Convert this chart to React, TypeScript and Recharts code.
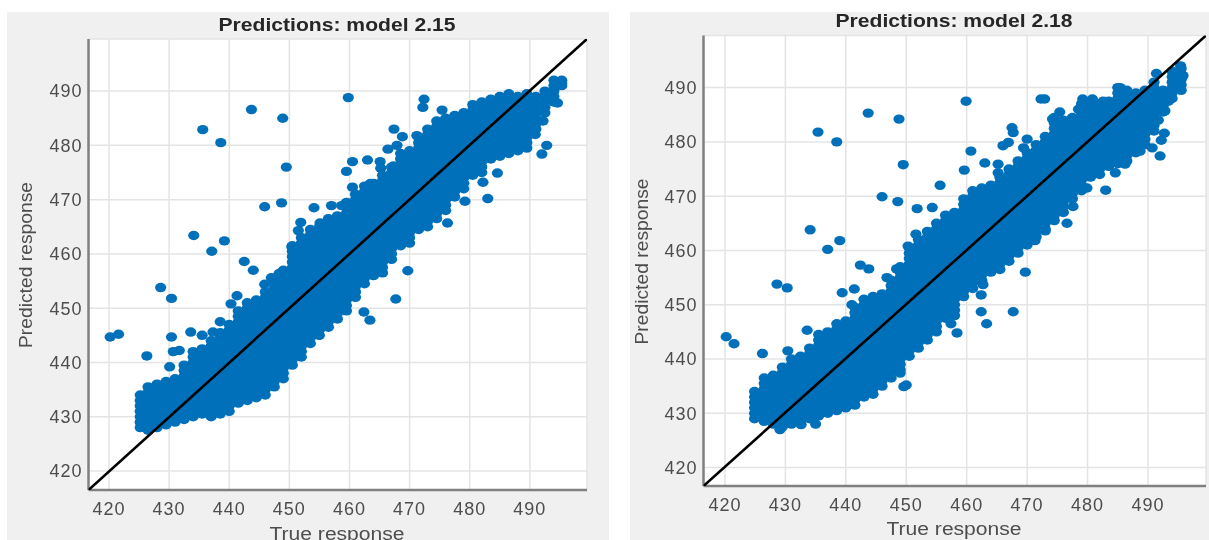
import { ScatterChart, Scatter, XAxis, YAxis, CartesianGrid } from "recharts";

const ticks = [420, 430, 440, 450, 460, 470, 480, 490];
const DOT_COLOR = "#0070ba";
const FONT = '"Liberation Sans", Arial, sans-serif';

// model 2.15: dense band, one row per true-response column
const bandLeft: [number, number[]][] = [
  [425.2, [428, 429, 430, 431, 432, 433, 434]],
  [426.5, [427.5, 428.5, 429.5, 430.5, 431.5, 432.5, 433.5, 434.5, 435.5]],
  [428, [428, 429, 430, 431, 432, 433, 434, 435, 436]],
  [429.5, [428.5, 429.5, 430.5, 431.5, 432.5, 433.5, 434.5, 435.5, 436.5]],
  [431, [429, 430, 431, 432, 433, 434, 435, 436, 437]],
  [432.5, [429.5, 430.5, 431.5, 432.5, 433.5, 434.5, 435.5, 436.5, 437.5, 438.5, 439.5]],
  [434, [430, 431, 432, 433, 434, 435, 436, 437, 438, 439, 440, 441, 442]],
  [435.5, [430.5, 431.5, 432.5, 433.5, 434.5, 435.5, 436.5, 437.5, 438.5, 439.5, 440.5, 441.5, 442.5]],
  [437, [430, 431, 432, 433, 434, 435, 436, 437, 438, 439, 440, 441, 442, 443, 444]],
  [438.5, [430.5, 431.5, 432.5, 433.5, 434.5, 435.5, 436.5, 437.5, 438.5, 439.5, 440.5, 441.5, 442.5, 443.5, 444.5, 445.5]],
  [440, [431, 432, 433, 434, 435, 436, 437, 438, 439, 440, 441, 442, 443, 444, 445, 446, 447]],
  [441.5, [432.5, 433.5, 434.5, 435.5, 436.5, 437.5, 438.5, 439.5, 440.5, 441.5, 442.5, 443.5, 444.5, 445.5, 446.5, 447.5, 448.5, 449.5]],
  [443, [433, 434, 435, 436, 437, 438, 439, 440, 441, 442, 443, 444, 445, 446, 447, 448, 449, 450, 451]],
  [444.5, [433.5, 434.5, 435.5, 436.5, 437.5, 438.5, 439.5, 440.5, 441.5, 442.5, 443.5, 444.5, 445.5, 446.5, 447.5, 448.5, 449.5, 450.5, 451.5]],
  [446, [434, 435, 436, 437, 438, 439, 440, 441, 442, 443, 444, 445, 446, 447, 448, 449, 450, 451, 452, 453]],
  [447.5, [435.5, 436.5, 437.5, 438.5, 439.5, 440.5, 441.5, 442.5, 443.5, 444.5, 445.5, 446.5, 447.5, 448.5, 449.5, 450.5, 451.5, 452.5, 453.5, 454.5, 455.5]],
  [449, [437, 438, 439, 440, 441, 442, 443, 444, 445, 446, 447, 448, 449, 450, 451, 452, 453, 454, 455, 456, 457]],
  [450.5, [439.5, 440.5, 441.5, 442.5, 443.5, 444.5, 445.5, 446.5, 447.5, 448.5, 449.5, 450.5, 451.5, 452.5, 453.5, 454.5, 455.5, 456.5, 457.5, 458.5, 459.5, 460.5, 461.5]],
  [452, [441, 442, 443, 444, 445, 446, 447, 448, 449, 450, 451, 452, 453, 454, 455, 456, 457, 458, 459, 460, 461, 462, 463]],
  [453.5, [443.5, 444.5, 445.5, 446.5, 447.5, 448.5, 449.5, 450.5, 451.5, 452.5, 453.5, 454.5, 455.5, 456.5, 457.5, 458.5, 459.5, 460.5, 461.5, 462.5, 463.5, 464.5]],
  [455, [445, 446, 447, 448, 449, 450, 451, 452, 453, 454, 455, 456, 457, 458, 459, 460, 461, 462, 463, 464, 465]],
  [456.5, [446.5, 447.5, 448.5, 449.5, 450.5, 451.5, 452.5, 453.5, 454.5, 455.5, 456.5, 457.5, 458.5, 459.5, 460.5, 461.5, 462.5, 463.5, 464.5, 465.5, 466.5]],
  [458, [448, 449, 450, 451, 452, 453, 454, 455, 456, 457, 458, 459, 460, 461, 462, 463, 464, 465, 466, 467]],
  [459.5, [449.5, 450.5, 451.5, 452.5, 453.5, 454.5, 455.5, 456.5, 457.5, 458.5, 459.5, 460.5, 461.5, 462.5, 463.5, 464.5, 465.5, 466.5, 467.5, 468.5, 469.5]],
  [461, [452, 453, 454, 455, 456, 457, 458, 459, 460, 461, 462, 463, 464, 465, 466, 467, 468, 469, 470, 471]],
  [462.5, [454.5, 455.5, 456.5, 457.5, 458.5, 459.5, 460.5, 461.5, 462.5, 463.5, 464.5, 465.5, 466.5, 467.5, 468.5, 469.5, 470.5, 471.5, 472.5]],
  [464, [456, 457, 458, 459, 460, 461, 462, 463, 464, 465, 466, 467, 468, 469, 470, 471, 472, 473]],
  [465.5, [456.5, 457.5, 458.5, 459.5, 460.5, 461.5, 462.5, 463.5, 464.5, 465.5, 466.5, 467.5, 468.5, 469.5, 470.5, 471.5, 472.5, 473.5, 474.5]],
  [467, [459, 460, 461, 462, 463, 464, 465, 466, 467, 468, 469, 470, 471, 472, 473, 474, 475, 476]],
  [468.5, [461.5, 462.5, 463.5, 464.5, 465.5, 466.5, 467.5, 468.5, 469.5, 470.5, 471.5, 472.5, 473.5, 474.5, 475.5, 476.5, 477.5, 478.5]],
  [470, [462, 463, 464, 465, 466, 467, 468, 469, 470, 471, 472, 473, 474, 475, 476, 477, 478, 479]],
  [471.5, [464.5, 465.5, 466.5, 467.5, 468.5, 469.5, 470.5, 471.5, 472.5, 473.5, 474.5, 475.5, 476.5, 477.5, 478.5, 479.5, 480.5, 481.5]],
  [473, [465, 466, 467, 468, 469, 470, 471, 472, 473, 474, 475, 476, 477, 478, 479, 480, 481, 482, 483]],
  [474.5, [466.5, 467.5, 468.5, 469.5, 470.5, 471.5, 472.5, 473.5, 474.5, 475.5, 476.5, 477.5, 478.5, 479.5, 480.5, 481.5, 482.5, 483.5, 484.5]],
  [476, [468, 469, 470, 471, 472, 473, 474, 475, 476, 477, 478, 479, 480, 481, 482, 483, 484, 485]],
  [477.5, [470.5, 471.5, 472.5, 473.5, 474.5, 475.5, 476.5, 477.5, 478.5, 479.5, 480.5, 481.5, 482.5, 483.5, 484.5, 485.5]],
  [479, [472, 473, 474, 475, 476, 477, 478, 479, 480, 481, 482, 483, 484, 485, 486]],
  [480.5, [474.5, 475.5, 476.5, 477.5, 478.5, 479.5, 480.5, 481.5, 482.5, 483.5, 484.5, 485.5, 486.5, 487.5]],
  [482, [475, 476, 477, 478, 479, 480, 481, 482, 483, 484, 485, 486, 487, 488]],
  [483.5, [477.5, 478.5, 479.5, 480.5, 481.5, 482.5, 483.5, 484.5, 485.5, 486.5, 487.5, 488.5]],
  [485, [478, 479, 480, 481, 482, 483, 484, 485, 486, 487, 488, 489]],
  [486.5, [478.5, 479.5, 480.5, 481.5, 482.5, 483.5, 484.5, 485.5, 486.5, 487.5, 488.5, 489.5]],
  [488, [479, 480, 481, 482, 483, 484, 485, 486, 487, 488, 489]],
  [489.5, [479.5, 480.5, 481.5, 482.5, 483.5, 484.5, 485.5, 486.5, 487.5, 488.5, 489.5]],
  [491, [483, 484, 485, 486, 487, 488, 489]],
  [492.5, [486, 487, 488, 489, 490]],
  [494, [488, 489, 490, 491, 492]],
  [495.3, [491, 491.5, 492]],
];
const strayLeft: [number, number][] = [
  [420.2, 444.7], [421.6, 445.2], [426.3, 441.2], [428.6, 453.8], [430.4, 451.8], [430.4, 444.7], [430.7, 442], [431.7, 442.2],
  [430.1, 439.2], [433.6, 445.6], [435.5, 445], [437.3, 445.6], [438.5, 447.5], [440.3, 450.8], [441.3, 452.3], [445.9, 454.4],
  [435.6, 482.9], [438.6, 480.5], [443.7, 486.6], [448.9, 485], [449.5, 476], [445.9, 468.7], [448.7, 469.4], [454.1, 468.5],
  [451.9, 465.8], [451.5, 464.3], [434.1, 463.4], [437.1, 460.5], [439.2, 462.4], [442.5, 458.6], [444, 457], [450.4, 461.3],
  [448.3, 456.4], [447, 455.6], [455.1, 465.7], [459.8, 488.8], [472.4, 488.5], [472.2, 487], [467.4, 483], [468.8, 481.6],
  [471.2, 481.8], [460.5, 477], [463, 477.3], [459.5, 475.2], [465.1, 477], [466.4, 479.3], [467.9, 480], [465.2, 475.8],
  [467.3, 476.2], [457, 468.9], [458.7, 468.9], [460.5, 472.3], [463.5, 473], [475.4, 486.5], [469.7, 456.9], [467.7, 451.7],
  [462.4, 449.3], [463.4, 447.8], [482.2, 473.2], [483, 470.2], [484.6, 474.9], [479.2, 469.7], [476.3, 465.7], [492, 478.4],
  [492.8, 480], [490.9, 482], [492.2, 484.5], [494.6, 487.8],
];

// model 2.18
const bandRight: [number, number[]][] = [
  [424.9, [429, 430, 431, 432, 433, 434]],
  [426.5, [428.5, 429.5, 430.5, 431.5, 432.5, 433.5, 434.5, 435.5, 436.5]],
  [428, [428, 429, 430, 431, 432, 433, 434, 435, 436, 437]],
  [429.5, [427.5, 428.5, 429.5, 430.5, 431.5, 432.5, 433.5, 434.5, 435.5, 436.5, 437.5, 438.5]],
  [431, [428, 429, 430, 431, 432, 433, 434, 435, 436, 437, 438, 439, 440]],
  [432.5, [428.5, 429.5, 430.5, 431.5, 432.5, 433.5, 434.5, 435.5, 436.5, 437.5, 438.5, 439.5, 440.5]],
  [434, [429, 430, 431, 432, 433, 434, 435, 436, 437, 438, 439, 440, 441, 442]],
  [435.5, [429.5, 430.5, 431.5, 432.5, 433.5, 434.5, 435.5, 436.5, 437.5, 438.5, 439.5, 440.5, 441.5, 442.5, 443.5, 444.5]],
  [437, [430, 431, 432, 433, 434, 435, 436, 437, 438, 439, 440, 441, 442, 443, 444, 445]],
  [438.5, [430.5, 431.5, 432.5, 433.5, 434.5, 435.5, 436.5, 437.5, 438.5, 439.5, 440.5, 441.5, 442.5, 443.5, 444.5, 445.5, 446.5]],
  [440, [431, 432, 433, 434, 435, 436, 437, 438, 439, 440, 441, 442, 443, 444, 445, 446, 447]],
  [441.5, [431.5, 432.5, 433.5, 434.5, 435.5, 436.5, 437.5, 438.5, 439.5, 440.5, 441.5, 442.5, 443.5, 444.5, 445.5, 446.5, 447.5, 448.5, 449.5]],
  [443, [433, 434, 435, 436, 437, 438, 439, 440, 441, 442, 443, 444, 445, 446, 447, 448, 449, 450, 451]],
  [444.5, [433.5, 434.5, 435.5, 436.5, 437.5, 438.5, 439.5, 440.5, 441.5, 442.5, 443.5, 444.5, 445.5, 446.5, 447.5, 448.5, 449.5, 450.5, 451.5]],
  [446, [435, 436, 437, 438, 439, 440, 441, 442, 443, 444, 445, 446, 447, 448, 449, 450, 451, 452]],
  [447.5, [436.5, 437.5, 438.5, 439.5, 440.5, 441.5, 442.5, 443.5, 444.5, 445.5, 446.5, 447.5, 448.5, 449.5, 450.5, 451.5, 452.5, 453.5, 454.5]],
  [449, [438, 439, 440, 441, 442, 443, 444, 445, 446, 447, 448, 449, 450, 451, 452, 453, 454, 455, 456, 457]],
  [450.5, [440.5, 441.5, 442.5, 443.5, 444.5, 445.5, 446.5, 447.5, 448.5, 449.5, 450.5, 451.5, 452.5, 453.5, 454.5, 455.5, 456.5, 457.5, 458.5, 459.5, 460.5]],
  [452, [442, 443, 444, 445, 446, 447, 448, 449, 450, 451, 452, 453, 454, 455, 456, 457, 458, 459, 460, 461, 462]],
  [453.5, [443.5, 444.5, 445.5, 446.5, 447.5, 448.5, 449.5, 450.5, 451.5, 452.5, 453.5, 454.5, 455.5, 456.5, 457.5, 458.5, 459.5, 460.5, 461.5, 462.5, 463.5]],
  [455, [445, 446, 447, 448, 449, 450, 451, 452, 453, 454, 455, 456, 457, 458, 459, 460, 461, 462, 463, 464, 465]],
  [456.5, [447.5, 448.5, 449.5, 450.5, 451.5, 452.5, 453.5, 454.5, 455.5, 456.5, 457.5, 458.5, 459.5, 460.5, 461.5, 462.5, 463.5, 464.5, 465.5, 466.5]],
  [458, [448, 449, 450, 451, 452, 453, 454, 455, 456, 457, 458, 459, 460, 461, 462, 463, 464, 465, 466, 467]],
  [459.5, [451.5, 452.5, 453.5, 454.5, 455.5, 456.5, 457.5, 458.5, 459.5, 460.5, 461.5, 462.5, 463.5, 464.5, 465.5, 466.5, 467.5, 468.5, 469.5]],
  [461, [453, 454, 455, 456, 457, 458, 459, 460, 461, 462, 463, 464, 465, 466, 467, 468, 469, 470, 471]],
  [462.5, [454.5, 455.5, 456.5, 457.5, 458.5, 459.5, 460.5, 461.5, 462.5, 463.5, 464.5, 465.5, 466.5, 467.5, 468.5, 469.5, 470.5, 471.5]],
  [464, [456, 457, 458, 459, 460, 461, 462, 463, 464, 465, 466, 467, 468, 469, 470, 471, 472]],
  [465.5, [456.5, 457.5, 458.5, 459.5, 460.5, 461.5, 462.5, 463.5, 464.5, 465.5, 466.5, 467.5, 468.5, 469.5, 470.5, 471.5, 472.5, 473.5]],
  [467, [458, 459, 460, 461, 462, 463, 464, 465, 466, 467, 468, 469, 470, 471, 472, 473, 474, 475]],
  [468.5, [459.5, 460.5, 461.5, 462.5, 463.5, 464.5, 465.5, 466.5, 467.5, 468.5, 469.5, 470.5, 471.5, 472.5, 473.5, 474.5, 475.5, 476.5]],
  [470, [461, 462, 463, 464, 465, 466, 467, 468, 469, 470, 471, 472, 473, 474, 475, 476, 477, 478]],
  [471.5, [462.5, 463.5, 464.5, 465.5, 466.5, 467.5, 468.5, 469.5, 470.5, 471.5, 472.5, 473.5, 474.5, 475.5, 476.5, 477.5, 478.5, 479.5]],
  [473, [464, 465, 466, 467, 468, 469, 470, 471, 472, 473, 474, 475, 476, 477, 478, 479, 480, 481]],
  [474.5, [465.5, 466.5, 467.5, 468.5, 469.5, 470.5, 471.5, 472.5, 473.5, 474.5, 475.5, 476.5, 477.5, 478.5, 479.5, 480.5, 481.5, 482.5, 483.5, 484.5]],
  [476, [467, 468, 469, 470, 471, 472, 473, 474, 475, 476, 477, 478, 479, 480, 481, 482, 483, 484]],
  [477.5, [469.5, 470.5, 471.5, 472.5, 473.5, 474.5, 475.5, 476.5, 477.5, 478.5, 479.5, 480.5, 481.5, 482.5, 483.5, 484.5]],
  [479, [471, 472, 473, 474, 475, 476, 477, 478, 479, 480, 481, 482, 483, 484, 485, 486, 487]],
  [480.5, [473.5, 474.5, 475.5, 476.5, 477.5, 478.5, 479.5, 480.5, 481.5, 482.5, 483.5, 484.5, 485.5, 486.5, 487.5]],
  [482, [474, 475, 476, 477, 478, 479, 480, 481, 482, 483, 484, 485, 486, 487]],
  [483.5, [475.5, 476.5, 477.5, 478.5, 479.5, 480.5, 481.5, 482.5, 483.5, 484.5, 485.5, 486.5, 487.5]],
  [485, [476, 477, 478, 479, 480, 481, 482, 483, 484, 485, 486, 487, 488, 489, 490]],
  [486.5, [476.5, 477.5, 478.5, 479.5, 480.5, 481.5, 482.5, 483.5, 484.5, 485.5, 486.5, 487.5, 488.5, 489.5]],
  [488, [478, 479, 480, 481, 482, 483, 484, 485, 486, 487, 488, 489]],
  [489.5, [479.5, 480.5, 481.5, 482.5, 483.5, 484.5, 485.5, 486.5, 487.5, 488.5, 489.5]],
  [491, [482, 483, 484, 485, 486, 487, 488, 489, 490, 491]],
  [492.5, [485.5, 486.5, 487.5, 488.5, 489.5]],
  [494, [488, 489, 490, 491, 492, 493]],
  [495.5, [489.5, 490.5, 491.5, 492.5, 493.5]],
];
const strayRight: [number, number][] = [
  [420.2, 444.1], [421.5, 442.8], [426.2, 441], [428.6, 453.8], [430.3, 453.1], [430.4, 441.5], [433.6, 445.3], [435, 428],
  [432.6, 427.9], [429.1, 427], [439.4, 452.2], [441.4, 452.9], [441, 450], [449, 437.4], [449.6, 434.9], [450, 435.2],
  [435.4, 481.8], [438.5, 480], [443.7, 485.3], [448.8, 484.2], [449.5, 475.8], [446, 469.9], [448.6, 469], [451.8, 467.7],
  [451.6, 463], [450.3, 460.8], [434.1, 463.8], [437, 460.2], [439, 461.8], [442.4, 457.3], [443.8, 456.6], [448.4, 456.6],
  [446.8, 455], [459.9, 487.5], [472.3, 487.9], [472.9, 487.9], [460.7, 478.3], [463, 476.1], [459.6, 474.8], [455.6, 472],
  [454.3, 467.9], [465.2, 475.9], [465.2, 474.3], [467.5, 482.6], [467.7, 481.7], [466.9, 479.9], [466, 479.3], [470, 480.5],
  [469.4, 478.9], [474.2, 484.2], [475.4, 485.5], [478.5, 486], [479.2, 487.9], [480.8, 487.9], [482.6, 487.5], [485.4, 490],
  [491.4, 492.6], [495.4, 494], [495.8, 492.2], [495.3, 489.8], [493.4, 487.5], [492.8, 485.7], [491.7, 484], [492.7, 481.6],
  [492.2, 480.3], [490.7, 478.9], [492, 477.4], [488.7, 478.3], [486.2, 475.9], [484.6, 474.3], [483, 471.1], [479.9, 471.5],
  [477.6, 468.1], [476.6, 465], [473, 463.6], [471.3, 461.8], [469.7, 456], [467.7, 448.7], [463.3, 446.5], [462.4, 448.7],
  [458.4, 444.8], [457.4, 446.5], [457.7, 448.3], [462.4, 451.8], [462.7, 453.7],
];

const toPoints = (band: [number, number[]][], stray: [number, number][]) => [
  ...band.flatMap(([x, ys]) => ys.map((y) => ({ x, y }))),
  ...stray.map(([x, y]) => ({ x, y })),
];

const Dot = ({ cx, cy }: any) => <ellipse cx={cx} cy={cy} rx={5.6} ry={4.7} fill={DOT_COLOR} />;
const NoDot = () => null;

const tickStyle = { fill: "#4d4d4d", fontSize: 18, fontFamily: FONT, letterSpacing: 1 };

interface PanelProps {
  title: string;
  points: { x: number; y: number }[];
  left: number;
  width: number;
  margin: { top: number; right: number; bottom: number; left: number };
  xDomain: [number, number];
  yDomain: [number, number];
  titleX: number;
  titleY: number;
  yLabelX: number;
  yLabelY: number;
  xLabelX: number;
  xLabelY: number;
}

const Panel = (p: PanelProps) => (
  <div style={{ position: "absolute", left: p.left, top: 12, width: p.width, height: 528, background: "#f0f0f0" }}>
    <ScatterChart width={p.width} height={528} margin={{ ...p.margin, left: 0, bottom: 0 }}>
      <CartesianGrid stroke="#e4e4e4" strokeWidth={1.5} fill="#fff" fillOpacity={1} />
      <XAxis
        type="number"
        dataKey="x"
        domain={p.xDomain}
        ticks={ticks}
        height={p.margin.bottom}
        allowDataOverflow
        stroke="#808080"
        strokeWidth={2.5}
        tickLine={false}
        tickMargin={6}
        tick={tickStyle}
        interval={0}
      />
      <YAxis
        type="number"
        dataKey="y"
        domain={p.yDomain}
        ticks={ticks}
        width={p.margin.left}
        allowDataOverflow
        stroke="#808080"
        strokeWidth={2.5}
        tickLine={false}
        tickSize={4}
        tick={tickStyle}
        interval={0}
      />
      <Scatter data={p.points} fill={DOT_COLOR} shape={Dot} isAnimationActive={false} />
      <Scatter
        data={[
          { x: p.xDomain[0], y: p.yDomain[0] },
          { x: p.xDomain[1], y: p.yDomain[1] },
        ]}
        line={{ stroke: "#000", strokeWidth: 2.6 }}
        shape={NoDot}
        isAnimationActive={false}
      />
      <text
        x={p.titleX}
        y={p.titleY}
        textAnchor="middle"
        textLength={237}
        lengthAdjust="spacingAndGlyphs"
        fontFamily={FONT}
        fontSize={17.5}
        fontWeight="bold"
        fill="#262626"
      >
        {p.title}
      </text>
      <text
        transform={`translate(${p.yLabelX},${p.yLabelY}) rotate(-90)`}
        textAnchor="middle"
        textLength={166}
        lengthAdjust="spacingAndGlyphs"
        fontFamily={FONT}
        fontSize={17.5}
        fill="#4d4d4d"
      >
        Predicted response
      </text>
      <text
        x={p.xLabelX}
        y={p.xLabelY}
        textAnchor="middle"
        textLength={135}
        lengthAdjust="spacingAndGlyphs"
        fontFamily={FONT}
        fontSize={17.5}
        fill="#4d4d4d"
      >
        True response
      </text>
    </ScatterChart>
  </div>
);

export default function App() {
  return (
    <div
      style={{
        position: "absolute",
        left: 0,
        top: 0,
        width: 1209,
        height: 540,
        background: "#fff",
        overflow: "hidden",
        filter: "blur(0.4px)",
      }}
    >
      <Panel
        title="Predictions: model 2.15"
        points={toPoints(bandLeft, strayLeft)}
        left={7}
        width={602}
        margin={{ top: 27, right: 22, bottom: 50, left: 81.5 }}
        xDomain={[416.6, 499.5]}
        yDomain={[416.5, 499.6]}
        titleX={330}
        titleY={19}
        yLabelX={25}
        yLabelY={253}
        xLabelX={330}
        xLabelY={527.7}
      />
      <Panel
        title="Predictions: model 2.18"
        points={toPoints(bandRight, strayRight)}
        left={630}
        width={579}
        margin={{ top: 23.5, right: 3, bottom: 54, left: 73.5 }}
        xDomain={[416.45, 499.6]}
        yDomain={[416.6, 499.6]}
        titleX={324}
        titleY={14.7}
        yLabelX={18}
        yLabelY={249.5}
        xLabelX={324}
        xLabelY={523}
      />
    </div>
  );
}
